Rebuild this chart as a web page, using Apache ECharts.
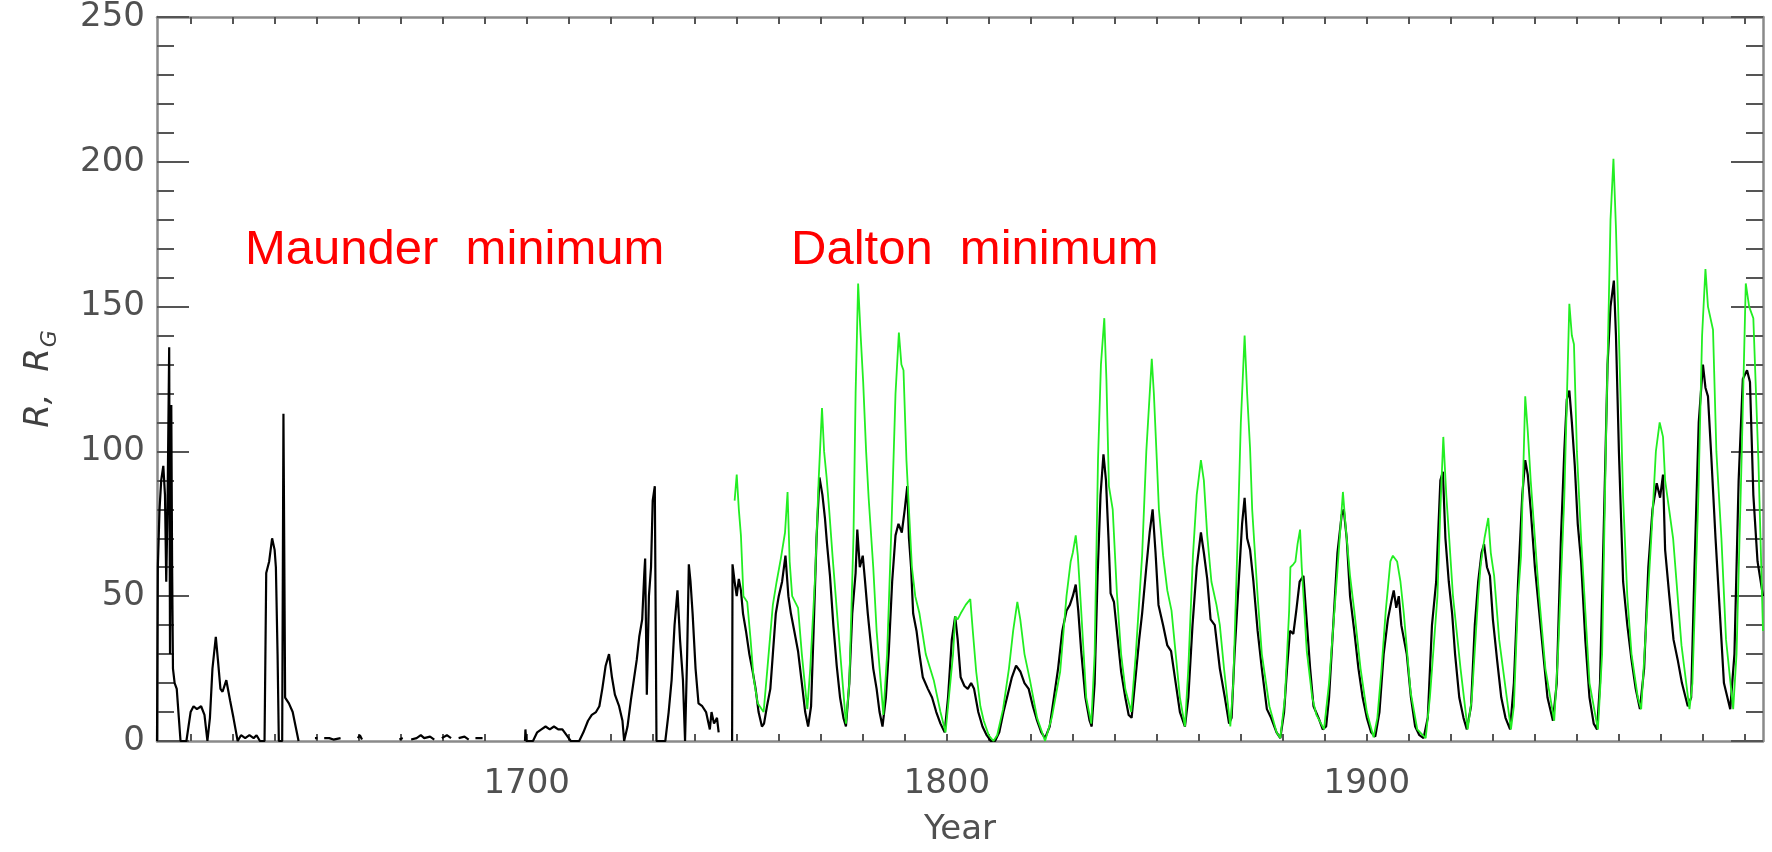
<!DOCTYPE html>
<html>
<head>
<meta charset="utf-8">
<script src="https://cdn.jsdelivr.net/npm/echarts@6/dist/echarts.min.js"></script>
<style>
html,body{margin:0;padding:0;background:#fff;}
#chart{width:1772px;height:852px;}
</style>
</head>
<body>
<div id="chart"></div>
<script>
// ---- Data (year, value) ----
// Group sunspot number R_G (black)
var groupSunspots = [
[1612.0,0],[1612.2,60],[1612.6,80],[1613.0,90],[1613.5,95],[1613.9,85],[1614.2,55],[1614.5,80],[1614.9,136],[1615.1,30],[1615.4,116],[1615.6,60],[1615.8,25],[1616.2,20],[1616.7,18],[1617.2,8],[1617.6,0],
[1619.0,0],[1619.5,5],[1620.0,10],[1620.7,12],[1621.5,11],[1622.5,12],[1623.3,9],[1624.0,0],[1624.6,8],[1625.2,25],[1626.0,36],[1626.5,28],[1627.1,18],[1627.6,17],[1628.5,21],[1629.4,14],[1630.2,8],[1631.2,0],
[1632.0,2],[1633.0,1],[1634.0,2],[1635.0,1],[1635.7,2],[1636.5,0],[1637.6,0],[1638.0,58],[1638.7,62],[1639.4,70],[1640.0,66],[1640.3,60],[1640.7,30],[1641.0,0],[1641.8,0],[1642.1,113],[1642.3,113],[1642.5,15],[1643.4,13],[1644.3,10],[1645.0,5],[1645.7,0],
null,[1649.6,1],[1650.2,1],null,[1651.8,1],[1653.0,1],[1654.0,0.5],[1655.7,1],null,[1659.8,1],[1660.3,2],[1660.8,0.5],null,
[1669.7,0.5],[1670.5,1],null,[1672.5,0.5],[1673.8,1],[1674.8,2],[1675.6,1],[1677.0,1.5],[1678.0,0.5],null,[1679.8,1],[1681.0,2],[1682.0,1],null,[1683.8,1],[1685.2,1.5],[1686.2,0.5],null,[1687.8,1],[1689.5,1],null,
[1699.6,0],[1699.7,4],[1699.9,0],[1701.5,0],[1702.5,3],[1703.5,4],[1704.5,5],[1705.5,4],[1706.5,5],[1707.5,4],[1708.5,4],[1709.5,2],[1710.5,0],[1712.5,0],[1713.5,3],[1714.6,7],[1715.5,9],[1716.5,10],[1717.3,12],[1718.0,18],[1718.8,26],[1719.6,30],[1720.3,22],[1721.0,16],[1722.0,12],[1722.8,7],[1723.2,0],
[1724.0,5],[1724.8,14],[1725.5,21],[1726.2,28],[1726.8,36],[1727.5,42],[1728.0,58],[1728.2,63],[1728.6,16],[1729.1,50],[1729.6,60],[1730.0,83],[1730.5,88],[1730.9,0],[1733.0,0],[1733.8,10],[1734.5,21],[1735.2,40],[1735.9,52],[1736.5,35],[1737.2,21],[1737.7,0],
[1738.2,30],[1738.6,61],[1739.0,55],[1739.5,44],[1740.2,25],[1740.9,13],[1741.8,12],[1742.7,10],[1743.6,4],[1744.0,10],[1744.6,6],[1745.3,8],[1745.7,3],null,
[1748.9,0],[1749.0,61],[1749.5,55],[1750.0,50],[1750.5,56],[1751.0,52],[1751.5,44],[1752.2,38],[1753.0,30],[1753.8,24],[1754.5,18],[1755.2,10],[1756.0,5],[1756.5,6],[1757.2,12],[1758.0,18],[1758.6,30],[1759.3,44],[1760.0,50],[1760.8,55],[1761.6,64],[1762.3,50],[1762.9,44],[1763.7,38],[1764.6,31],[1765.5,20],[1766.3,10],[1767.0,5],
[1767.7,12],[1768.3,38],[1769.0,70],[1769.7,91],[1770.4,85],[1771.0,77],[1771.5,68],[1772.2,57],[1773.0,40],[1773.8,26],[1774.6,15],[1775.4,8],[1776.0,5],[1776.8,20],[1777.5,44],[1778.3,58],[1778.7,73],[1779.3,60],[1780.0,64],[1780.5,56],[1781.2,44],[1782.5,25],[1783.3,18],[1784.0,10],[1784.7,5],
[1785.5,15],[1786.2,31],[1787.0,55],[1787.8,71],[1788.5,75],[1789.3,72],[1790.0,80],[1790.6,88],[1791.0,70],[1791.5,60],[1792.0,44],[1792.8,38],[1793.5,30],[1794.3,22],[1795.5,18],[1796.5,15],[1797.5,10],[1798.5,6],[1799.5,3],
[1800.3,15],[1801.2,35],[1802.0,43],[1802.6,35],[1803.3,22],[1804.2,19],[1805.0,18],[1805.8,20],[1806.5,18],[1807.5,10],[1808.5,5],[1809.5,2],[1810.5,0],[1811.5,0],[1812.5,3],[1813.5,10],[1814.5,16],[1815.5,22],[1816.5,26],[1817.5,24],[1818.5,20],[1819.5,18],[1820.5,12],[1821.5,7],[1822.5,3],[1823.4,1],
[1824.5,5],[1825.5,15],[1826.5,25],[1827.5,38],[1828.5,45],[1829.3,47],[1830.0,50],[1830.7,54],[1831.3,45],[1832.0,31],[1833.0,15],[1834.0,7],[1834.5,5],[1835.2,20],[1835.9,57],[1836.6,85],[1837.3,99],[1837.9,90],[1838.5,70],[1839.0,51],[1839.8,48],[1840.5,38],[1841.5,24],[1842.5,15],[1843.3,9],[1844.0,8],
[1844.8,20],[1845.8,35],[1846.5,44],[1847.5,60],[1848.3,72],[1849.0,80],[1849.7,65],[1850.4,47],[1851.5,40],[1852.5,33],[1853.4,31],[1854.5,20],[1855.5,10],[1856.7,5],[1857.5,15],[1858.5,40],[1859.5,60],[1860.5,72],[1861.2,65],[1862.0,56],[1862.8,42],[1863.8,40],[1865.0,25],[1866.2,15],[1867.2,6],
[1867.8,8],[1868.5,30],[1869.5,55],[1870.3,75],[1870.9,84],[1871.5,70],[1872.2,66],[1873.0,55],[1874.0,38],[1875.0,25],[1876.2,11],[1877.2,8],[1878.5,3],[1879.4,1],[1880.3,10],[1881.0,25],[1881.7,38],[1882.5,37],[1883.2,45],[1884.0,55],[1884.9,57],[1885.5,45],[1886.5,25],[1887.3,12],[1888.5,8],[1889.5,4],
[1890.3,5],[1891.0,15],[1892.0,40],[1893.0,65],[1894.0,78],[1894.5,80],[1895.2,70],[1896.0,50],[1897.0,38],[1898.0,25],[1899.0,15],[1900.0,8],[1901.0,3],[1902.0,1.5],[1903.0,10],[1904.0,30],[1905.0,42],[1905.8,48],[1906.4,52],[1907.0,46],[1907.6,50],[1908.2,40],[1909.5,30],[1910.5,15],[1911.5,5],[1912.5,2],[1913.5,1],
[1914.5,8],[1915.5,40],[1916.5,55],[1917.5,90],[1918.1,93],[1918.7,70],[1919.5,55],[1920.3,44],[1921.0,30],[1922.0,15],[1923.0,8],[1923.8,4],[1924.8,12],[1925.7,40],[1926.5,55],[1927.3,65],[1927.9,68],[1928.6,60],[1929.3,57],[1930.0,42],[1931.0,28],[1932.0,15],[1933.0,8],[1934.1,4],
[1935.0,20],[1936.0,55],[1937.0,85],[1937.7,97],[1938.3,92],[1939.0,80],[1940.0,60],[1941.0,45],[1942.0,30],[1943.0,15],[1944.3,7],[1945.2,20],[1946.2,70],[1947.0,100],[1947.6,118],[1948.2,121],[1948.8,110],[1949.5,95],[1950.2,75],[1951.0,62],[1952.0,35],[1953.0,15],[1954.0,6],[1954.8,4],
[1955.5,20],[1956.5,80],[1957.3,130],[1958.0,150],[1958.8,159],[1959.3,140],[1960.0,100],[1961.0,55],[1962.0,40],[1963.0,28],[1964.0,18],[1965.0,11],[1966.0,25],[1967.0,60],[1968.0,80],[1969.0,89],[1969.8,84],[1970.5,92],[1971.0,66],[1972.0,50],[1973.0,35],[1974.0,28],[1975.0,20],[1976.4,12],
[1977.2,15],[1978.0,60],[1979.0,110],[1980.0,130],[1980.6,122],[1981.2,119],[1982.0,98],[1983.0,70],[1984.0,45],[1985.0,20],[1986.5,11],[1987.5,30],[1988.5,90],[1989.5,125],[1990.5,128],[1991.2,124],[1992.0,85],[1993.0,62],[1994.3,50]
];

// Wolf sunspot number R (green)
var wolfSunspots = [
[1749.5,83],[1750.0,92],[1750.5,80],[1751.0,71],[1751.6,50],[1752.5,48],[1753.3,35],[1754.0,22],[1755.0,13],[1756.4,10],[1757.3,25],[1758.6,47],[1759.5,55],[1760.5,63],[1761.5,72],[1762.1,86],[1762.6,62],[1763.2,50],[1764.6,46],[1765.5,30],[1766.8,11],
[1767.5,25],[1768.7,58],[1769.5,90],[1770.3,115],[1770.8,100],[1771.4,91],[1772.0,80],[1772.8,64],[1774.6,31],[1776.0,6],[1776.8,20],[1777.8,71],[1778.3,120],[1778.9,158],[1779.5,140],[1780.1,124],[1780.8,100],[1781.4,84],[1782.5,60],[1783.3,38],[1784.9,9],
[1785.8,30],[1786.9,77],[1787.8,120],[1788.6,141],[1789.2,130],[1789.7,128],[1790.4,97],[1791.7,60],[1792.5,50],[1793.5,44],[1795.0,30],[1796.9,21],[1798.5,10],[1799.7,3],[1800.5,15],[1801.5,30],[1802.0,43],[1802.6,42],[1803.3,44],[1804.5,47],[1805.6,49],[1806.2,38],[1807.0,24],[1808.0,12],[1808.8,7],[1810.0,2],[1811.1,0],
[1812.0,2],[1813.4,11],[1814.8,25],[1815.8,38],[1816.8,48],[1817.5,42],[1818.5,30],[1819.8,21],[1821.5,8],[1823.4,0],[1825.0,8],[1827.0,24],[1828.5,50],[1829.5,62],[1830.0,65],[1830.7,71],[1831.2,64],[1832.0,45],[1833.2,15],[1834.4,6],
[1835.2,30],[1836.0,97],[1836.7,130],[1837.5,146],[1838.0,125],[1838.6,88],[1839.5,80],[1840.5,51],[1841.5,30],[1842.5,18],[1843.9,10],[1845.0,30],[1846.5,64],[1847.5,100],[1848.8,132],[1849.3,120],[1850.0,97],[1850.5,80],[1851.5,64],[1852.5,52],[1853.5,45],[1854.5,30],[1855.5,15],[1856.7,5],
[1857.5,25],[1858.6,64],[1859.5,85],[1860.5,97],[1861.2,90],[1862.0,71],[1863.0,55],[1864.2,47],[1865.0,40],[1866.0,25],[1867.5,5],[1868.2,20],[1869.0,58],[1870.0,110],[1870.9,140],[1871.5,120],[1872.2,101],[1872.7,80],[1874.0,50],[1875.0,30],[1876.8,12],[1878.5,3],[1879.4,1],
[1880.5,15],[1881.5,45],[1881.8,60],[1882.5,61],[1883.0,62],[1883.5,68],[1884.1,73],[1884.5,60],[1885.7,31],[1887.0,15],[1888.0,9],[1889.8,4],[1891.0,20],[1892.9,57],[1894.3,86],[1894.9,75],[1896.0,57],[1897.0,45],[1898.5,25],[1900.0,10],[1901.6,1.3],
[1902.5,8],[1903.5,25],[1904.5,45],[1905.6,62],[1906.2,64],[1907.2,62],[1908.0,55],[1908.8,44],[1910.4,17],[1912.0,4],[1914.0,1],[1915.0,15],[1916.8,50],[1917.5,80],[1918.2,105],[1918.9,85],[1919.6,70],[1920.5,50],[1922.3,25],[1924.0,4],
[1925.0,15],[1926.5,50],[1927.1,61],[1928.0,70],[1928.9,77],[1929.5,65],[1930.3,57],[1931.5,35],[1934.3,4],[1935.0,12],[1936.0,50],[1936.7,64],[1937.7,119],[1938.3,107],[1939.0,90],[1940.0,70],[1941.0,50],[1942.5,25],[1944.6,7],
[1945.5,30],[1947.0,84],[1948.2,151],[1948.8,140],[1949.3,137],[1950.0,100],[1951.0,70],[1952.0,45],[1953.0,20],[1955.0,4],[1956.0,30],[1957.0,110],[1958.0,180],[1958.7,201],[1959.3,177],[1960.0,140],[1961.0,84],[1962.0,50],[1963.0,30],[1964.5,15],[1965.3,11],
[1966.5,40],[1967.7,70],[1968.8,100],[1969.7,110],[1970.5,105],[1971.0,90],[1972.9,70],[1974.9,33],[1976.8,11],[1977.5,20],[1978.9,84],[1979.8,140],[1980.6,163],[1981.2,150],[1982.4,142],[1983.2,100],[1984.4,70],[1985.5,35],[1987.2,11],
[1988.0,30],[1989.2,97],[1990.2,158],[1991.0,150],[1992.0,146],[1993.2,97],[1994.3,38]
];

// Tick positions / labels
var xTickYears = [1620,1630,1640,1650,1660,1670,1680,1690,1700,1710,1720,1730,1740,1750,1760,1770,1780,1790,1800,1810,1820,1830,1840,1850,1860,1870,1880,1890,1900,1910,1920,1930,1940,1950,1960,1970,1980,1990];
var xLabelYears = [1700,1800,1900];
var yTickValues = [0,50,100,150,200,250];

var annotations = [
  {text: 'Maunder  minimum', left: 245, top: 226},
  {text: 'Dalton  minimum', left: 791, top: 226}
];

var chart = echarts.init(document.getElementById('chart'), null, {renderer: 'canvas'});

var frameColor = '#8a8a8a';
var tickColor = '#555';
var labelFont = 'DejaVu Sans';

function xAxisCfg(pos) {
  var bottom = pos === 'bottom';
  return {
    type: 'value', position: pos, min: 1612, max: 1994.3,
    axisLine: {show: true, onZero: false, lineStyle: {color: frameColor, width: 2.5}},
    axisTick: {show: true, inside: true, length: 7, customValues: xTickYears, lineStyle: {color: tickColor, width: 2}},
    axisLabel: {show: bottom, customValues: xLabelYears, margin: 26, fontSize: 34, fontFamily: labelFont, color: '#505050',
      formatter: function (v) { return String(v); }},
    splitLine: {show: false},
    name: bottom ? 'Year' : '',
    nameLocation: 'middle', nameGap: 72,
    nameTextStyle: {fontSize: 34, fontFamily: labelFont, color: '#505050'}
  };
}
function yAxisCfg(pos) {
  var left = pos === 'left';
  return {
    type: 'value', position: pos, min: 0, max: 250, interval: 50,
    axisLine: {show: true, onZero: false, lineStyle: {color: frameColor, width: 2.5}},
    axisTick: {show: true, inside: true, length: 32, lineStyle: {color: tickColor, width: 2}},
    minorTick: {show: true, splitNumber: 5, length: 17, lineStyle: {color: tickColor, width: 2}},
    axisLabel: {show: left, margin: 12, fontSize: 34, fontFamily: labelFont, color: '#505050',
      formatter: function (v) { return String(v); }},
    splitLine: {show: false},
    name: left ? 'R,  R{g|G}' : '',
    nameLocation: 'middle', nameGap: 96,
    nameTextStyle: {
      color: '#404040', fontSize: 34, fontStyle: 'italic', fontFamily: labelFont, lineHeight: 44,
      rich: {
        g: {fontSize: 22, fontStyle: 'italic', fontFamily: labelFont, color: '#404040', lineHeight: 44, verticalAlign: 'bottom', padding: [0, 0, 0, 1]}
      }
    }
  };
}

var option = {
  animation: false,
  backgroundColor: '#ffffff',
  grid: {left: 157, right: 9, top: 12, bottom: 106, containLabel: false},
  xAxis: [xAxisCfg('bottom'), xAxisCfg('top')],
  yAxis: [yAxisCfg('left'), yAxisCfg('right')],
  series: [
    {type: 'line', name: 'R_G', data: groupSunspots, showSymbol: false, connectNulls: false,
     lineStyle: {color: '#000000', width: 2.2}, itemStyle: {color: '#000'}, z: 2},
    {type: 'line', name: 'R', data: wolfSunspots, showSymbol: false,
     lineStyle: {color: '#22ee22', width: 1.8}, itemStyle: {color: '#22ee22'}, z: 3}
  ],
  graphic: annotations.map(function (a) {
    return {type: 'text', left: a.left, top: a.top, z: 10,
      style: {text: a.text, fill: '#ff0000', font: '49px "Liberation Sans"'}};
  })
};
chart.setOption(option);
</script>
</body>
</html>
